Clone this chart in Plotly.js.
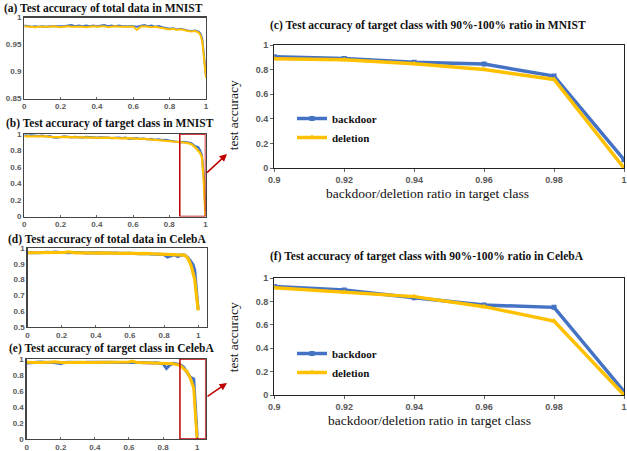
<!DOCTYPE html>
<html><head><meta charset="utf-8">
<script src="https://cdn.plot.ly/plotly-3.0.1.min.js"></script>
<style>html,body{margin:0;padding:0;background:#fff}#chart{width:627px;height:451px}</style>
</head><body><div id="chart"></div>
<script>
const ratioFull = [0,0.02,0.04,0.06,0.08,0.1,0.12,0.14,0.16,0.18,0.2,0.22,0.24,0.26,0.28,0.3,0.32,0.34,0.36,0.38,0.4,0.42,0.44,0.46,0.48,0.5,0.52,0.54,0.56,0.58,0.6,0.62,0.64,0.66,0.68,0.7,0.72,0.74,0.76,0.78,0.8,0.82,0.84,0.86,0.88,0.9,0.92,0.94,0.96,0.97,0.98,0.99,0.995,1.0];

const mnistTotalBackdoor = [0.985,0.984,0.983,0.984,0.983,0.984,0.983,0.984,0.984,0.983,
0.984,0.984,0.985,0.986,0.984,0.985,0.984,0.985,0.984,0.985,
0.984,0.985,0.986,0.984,0.985,0.984,0.985,0.984,0.984,0.985,
0.984,0.983,0.985,0.986,0.984,0.985,0.983,0.984,0.982,0.981,
0.979,0.980,0.978,0.979,0.977,0.976,0.975,0.976,0.974,
0.970,0.960,0.925,0.905,0.891];
const mnistTotalDeletion = [0.984,0.983,0.983,0.982,0.983,0.983,0.982,0.983,0.984,0.983,
0.982,0.983,0.984,0.983,0.983,0.984,0.983,0.982,0.983,0.984,
0.983,0.983,0.984,0.982,0.983,0.984,0.983,0.983,0.982,0.983,
0.983,0.977,0.983,0.984,0.983,0.982,0.983,0.982,0.981,0.979,
0.978,0.979,0.977,0.978,0.976,0.975,0.974,0.975,0.972,
0.967,0.955,0.920,0.902,0.888];
const mnistTargetBackdoor = [0.985,0.980,0.985,0.980,0.975,0.980,0.970,0.975,0.960,0.955,
0.965,0.970,0.965,0.960,0.965,0.960,0.955,0.965,0.960,0.960,
0.955,0.960,0.960,0.955,0.950,0.955,0.955,0.950,0.955,0.940,
0.945,0.950,0.940,0.945,0.935,0.940,0.930,0.935,0.925,0.930,
0.920,0.915,0.910,0.900,0.905,0.900,0.890,0.855,0.840,
0.800,0.745,0.500,0.250,0.070];
const mnistTargetDeletion = [0.970,0.975,0.970,0.972,0.970,0.968,0.970,0.966,0.968,0.965,
0.963,0.965,0.962,0.960,0.961,0.958,0.960,0.957,0.958,0.955,
0.956,0.954,0.955,0.952,0.953,0.950,0.951,0.948,0.949,0.945,
0.943,0.944,0.940,0.941,0.937,0.935,0.933,0.930,0.928,0.925,
0.920,0.915,0.910,0.903,0.897,0.890,0.880,0.845,0.800,
0.770,0.720,0.450,0.200,0.000];
const celebaTotalBackdoor = [0.970,0.972,0.971,0.970,0.972,0.971,0.973,0.972,0.975,0.973,
0.971,0.972,0.970,0.971,0.972,0.970,0.971,0.969,0.970,0.971,
0.969,0.970,0.968,0.969,0.970,0.968,0.969,0.967,0.968,0.966,
0.967,0.965,0.966,0.964,0.963,0.965,0.962,0.963,0.961,0.960,
0.958,0.943,0.950,0.957,0.945,0.955,0.955,0.940,0.910,
0.895,0.860,0.720,0.660,0.610];
const celebaTotalDeletion = [0.970,0.970,0.969,0.970,0.969,0.970,0.970,0.969,0.970,0.971,
0.970,0.972,0.976,0.970,0.969,0.970,0.969,0.968,0.969,0.970,
0.968,0.969,0.968,0.969,0.968,0.967,0.968,0.967,0.966,0.967,
0.966,0.962,0.965,0.964,0.966,0.964,0.962,0.963,0.962,0.961,
0.960,0.959,0.958,0.958,0.957,0.958,0.955,0.935,0.885,
0.840,0.800,0.700,0.650,0.605];
const celebaTargetBackdoor = [0.950,0.955,0.960,0.958,0.962,0.960,0.955,0.960,0.958,0.950,
0.940,0.955,0.960,0.958,0.962,0.960,0.958,0.955,0.960,0.958,
0.957,0.960,0.956,0.958,0.960,0.957,0.955,0.958,0.956,0.955,
0.958,0.960,0.955,0.957,0.954,0.955,0.952,0.950,0.952,0.945,
0.940,0.883,0.925,0.945,0.935,0.929,0.900,0.834,0.771,
0.760,0.751,0.400,0.200,0.030];
const celebaTargetDeletion = [0.958,0.955,0.953,0.955,0.957,0.955,0.956,0.958,0.965,0.960,
0.955,0.953,0.955,0.957,0.955,0.954,0.956,0.958,0.955,0.956,
0.955,0.953,0.955,0.954,0.956,0.955,0.954,0.955,0.956,0.958,
0.962,0.975,0.960,0.956,0.955,0.953,0.952,0.951,0.950,0.949,
0.948,0.946,0.943,0.940,0.930,0.920,0.880,0.843,0.757,
0.700,0.634,0.300,0.150,0.000];

const ratioZoom = [0.9,0.92,0.94,0.96,0.98,1.0];
const mnistZoomBackdoor = [0.905,0.891,0.859,0.845,0.747,0.068];
const mnistZoomDeletion = [0.889,0.880,0.848,0.800,0.720,0.000];
const celebaZoomBackdoor = [0.929,0.900,0.834,0.771,0.751,0.030];
const celebaZoomDeletion = [0.920,0.880,0.843,0.757,0.634,0.000];

const panelTitles = {
  a: "(a) Test accuracy of total data in MNIST",
  b: "(b) Test accuracy of target class in MNIST",
  c: "(c) Test accuracy of target class with 90%-100% ratio in MNIST",
  d: "(d) Test accuracy of total data in CelebA",
  e: "(e) Test accuracy of target class in CelebA",
  f: "(f) Test accuracy of target class with 90%-100% ratio in CelebA"
};
const xTitle = "backdoor/deletion ratio in target class";
const yTitle = "test accuracy";

const BLUE = "#4472C4", GOLD = "#FFC000";
const W = 627, H = 451;
const px = v => v / W, py = v => 1 - v / H;

function line(x, y, xa, ya, color, w, name, extra) {
  return Object.assign({x: x, y: y, xaxis: xa, yaxis: ya, type: "scatter", mode: "lines",
    line: {color: color, width: w}, name: name, showlegend: false, hoverinfo: "skip"}, extra || {});
}

const traces = [
  line(ratioFull, mnistTotalBackdoor, "x", "y", BLUE, 2, "backdoor"),
  line(ratioFull, mnistTotalDeletion, "x", "y", GOLD, 2, "deletion"),
  line(ratioFull, mnistTargetBackdoor, "x2", "y2", BLUE, 2.2, "backdoor"),
  line(ratioFull, mnistTargetDeletion, "x2", "y2", GOLD, 2.2, "deletion"),
  line(ratioFull, celebaTotalBackdoor, "x3", "y3", BLUE, 3, "backdoor"),
  line(ratioFull, celebaTotalDeletion, "x3", "y3", GOLD, 3.2, "deletion"),
  line(ratioFull, celebaTargetBackdoor, "x4", "y4", BLUE, 3, "backdoor"),
  line(ratioFull, celebaTargetDeletion, "x4", "y4", GOLD, 3, "deletion"),
  line(ratioZoom, mnistZoomBackdoor, "x5", "y5", BLUE, 3.5, "backdoor",
    {mode: "lines+markers", marker: {symbol: "square", size: 5, color: BLUE}, showlegend: true, legend: "legend"}),
  line(ratioZoom, mnistZoomDeletion, "x5", "y5", GOLD, 3.5, "deletion",
    {mode: "lines+markers", marker: {symbol: "triangle-up", size: 6, color: GOLD}, showlegend: true, legend: "legend"}),
  line(ratioZoom, celebaZoomBackdoor, "x6", "y6", BLUE, 3.5, "backdoor",
    {mode: "lines+markers", marker: {symbol: "square", size: 5, color: BLUE}, showlegend: true, legend: "legend2"}),
  line(ratioZoom, celebaZoomDeletion, "x6", "y6", GOLD, 3.5, "deletion",
    {mode: "lines+markers", marker: {symbol: "triangle-up", size: 6, color: GOLD}, showlegend: true, legend: "legend2"})
];

const tickFontSmall = {family: "Liberation Sans, Arial, sans-serif", size: 8, color: "#595959", weight: "bold"};
const tickFontBig = {family: "Liberation Sans, Arial, sans-serif", size: 9, color: "#595959", weight: "bold"};

function xax(dom, range, anchor, tickvals, big) {
  return {domain: dom, range: range, anchor: anchor, tickvals: tickvals,
    showgrid: false, zeroline: false, showline: true, mirror: true,
    linecolor: big ? "#222" : "#444", linewidth: big ? 1.2 : 1.3,
    ticks: big ? "outside" : "inside", ticklen: big ? 3 : 2, tickcolor: "#666",
    ticklabeloverflow: "allow",
    tickfont: big ? tickFontBig : tickFontSmall, fixedrange: true};
}
function yax(dom, range, anchor, dtick, big) {
  return {domain: dom, range: range, anchor: anchor, dtick: dtick, tick0: 0,
    showgrid: false, zeroline: false, showline: true, mirror: true,
    linecolor: big ? "#222" : "#444", linewidth: big ? 1.2 : 1.3,
    ticks: big ? "outside" : "", ticklen: 3, tickcolor: "#666",
    tickfont: big ? tickFontBig : tickFontSmall, fixedrange: true};
}
const smallTicks = [0, 0.2, 0.4, 0.6, 0.8, 1];

const titleFont = {family: "Liberation Serif, Times New Roman, serif", size: 11.5, color: "#111", weight: "bold"};
const axisTitleFont = {family: "Liberation Serif, Times New Roman, serif", size: 13.5, color: "#111"};
const legendFont = {family: "Liberation Serif, Times New Roman, serif", size: 11, color: "#111", weight: "bold"};

function ann(text, x, y, font, extra) {
  return Object.assign({text: text, xref: "paper", yref: "paper", x: px(x), y: py(y),
    xanchor: "center", yanchor: "middle", showarrow: false, font: font}, extra || {});
}

const layout = {
  width: W, height: H, margin: {l: 0, r: 0, t: 0, b: 0},
  paper_bgcolor: "#fff", plot_bgcolor: "#fff",
  xaxis: xax([px(24.3), px(206)], [0, 1], "y", smallTicks, false),
  yaxis: yax([py(98.5), py(17.5)], [0.85, 1], "x", 0.05, false),
  xaxis2: xax([px(24.3), px(205.5)], [0, 1], "y2", smallTicks, false),
  yaxis2: yax([py(216.5), py(134)], [0, 1], "x2", 0.2, false),
  xaxis3: xax([px(27.5), px(206.7)], [0, 1.05], "y3", smallTicks, false),
  yaxis3: yax([py(327), py(248)], [0.5, 1], "x3", 0.1, false),
  xaxis4: xax([px(26.7), px(205.7)], [0, 1.05], "y4", smallTicks, false),
  yaxis4: yax([py(439), py(359)], [0, 1], "x4", 0.2, false),
  xaxis5: xax([px(274.3), px(624)], [0.9, 1], "y5", ratioZoom, true),
  yaxis5: yax([py(168), py(45)], [0, 1], "x5", 0.2, true),
  xaxis6: xax([px(274.3), px(624)], [0.9, 1], "y6", ratioZoom, true),
  yaxis6: yax([py(395), py(278.3)], [0, 1], "x6", 0.2, true),
  legend: {x: px(292), y: py(104), xanchor: "left", yanchor: "top", bgcolor: "rgba(0,0,0,0)",
    font: legendFont, tracegroupgap: 0, itemclick: false, itemdoubleclick: false},
  legend2: {x: px(292), y: py(339), xanchor: "left", yanchor: "top", bgcolor: "rgba(0,0,0,0)",
    font: legendFont, tracegroupgap: 0, itemclick: false, itemdoubleclick: false},
  shapes: [
    {type: "rect", xref: "x2", yref: "y2", x0: 0.858, x1: 1.0, y0: 0, y1: 1,
      line: {color: "#C00000", width: 1.5}, fillcolor: "rgba(0,0,0,0)"},
    {type: "rect", xref: "x4", yref: "y4", x0: 0.899, x1: 1.05, y0: 0, y1: 1,
      line: {color: "#C00000", width: 1.5}, fillcolor: "rgba(0,0,0,0)"}
  ],
  annotations: [
    ann(panelTitles.a, 103.5, 8.5, titleFont),
    ann(panelTitles.b, 110, 124, titleFont),
    ann(panelTitles.d, 107, 239, titleFont),
    ann(panelTitles.e, 111, 348.3, titleFont),
    ann(panelTitles.c, 428, 26, titleFont),
    ann(panelTitles.f, 427.5, 256.7, titleFont),
    ann(xTitle, 427, 193, axisTitleFont),
    ann(xTitle, 429, 420, axisTitleFont),
    ann(yTitle, 233.3, 115, axisTitleFont, {textangle: -90}),
    ann(yTitle, 233.3, 337, axisTitleFont, {textangle: -90}),
    {text: "", xref: "paper", yref: "paper", x: px(227), y: py(154), ax: -21.5, ay: 20,
      showarrow: true, arrowhead: 2, arrowsize: 1, arrowwidth: 1.5, arrowcolor: "#C00000", standoff: 0},
    {text: "", xref: "paper", yref: "paper", x: px(227), y: py(383), ax: -21, ay: 14.5,
      showarrow: true, arrowhead: 2, arrowsize: 1, arrowwidth: 1.5, arrowcolor: "#C00000", standoff: 0}
  ]
};

Plotly.newPlot("chart", traces, layout, {displayModeBar: false, staticPlot: true});
</script>
</body></html>
